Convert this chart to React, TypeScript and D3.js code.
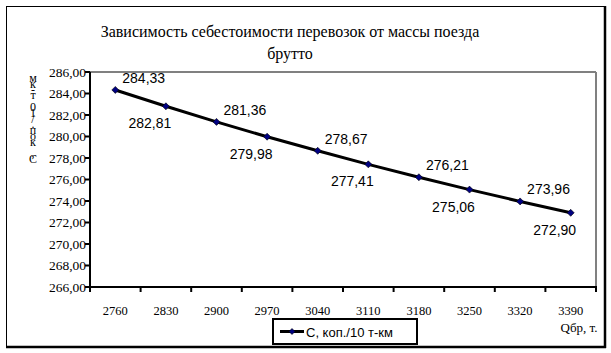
import React from "react";
import * as d3 from "d3";

const categories = ["2760", "2830", "2900", "2970", "3040", "3110", "3180", "3250", "3320", "3390"];
const values = [284.33, 282.81, 281.36, 279.98, 278.67, 277.41, 276.21, 275.06, 273.96, 272.9];
const yTicks = [266, 268, 270, 272, 274, 276, 278, 280, 282, 284, 286];
const titleLines = ["Зависимость себестоимости перевозок от массы поезда", "брутто"];
const seriesName = "С, коп./10 т-км";
const xTitle = "Qбр, т.";

const W = 611, H = 353;
const plot = { left: 90, right: 596, top: 72, bottom: 287 };

export default function App() {
  const x = d3.scaleBand<string>().domain(categories).range([plot.left, plot.right]);
  const y = d3.scaleLinear().domain([266, 286]).range([plot.bottom, plot.top]);
  const cx = (c: string) => (x(c) as number) + x.bandwidth() / 2;
  const line = d3.line<number>().x((_, i) => cx(categories[i])).y((v) => y(v));
  const fmt = (v: number) => v.toFixed(2).replace(".", ",");
  const diamond = (px: number, py: number, r = 3.5) =>
    `M${px},${py - r}L${px + r},${py}L${px},${py + r}L${px - r},${py}Z`;
  const yTitleStacked = Array.from(seriesName).reverse().join("");
  const serif = "'Liberation Serif', 'Times New Roman', serif";
  const sans = "'Liberation Sans', Arial, sans-serif";
  const tickEdges = [...categories.map((c) => x(c) as number), plot.right];

  return (
    <svg width={W} height={H} style={{ position: "absolute", left: 0, top: 0 }}>
      <rect x={0} y={0} width={W} height={H} fill="#fff" />
      {/* chart frame */}
      <rect x={6.5} y={6.5} width={598} height={340} fill="#fff" stroke="#000" strokeWidth={1} />
      <line x1={605} y1={6} x2={605} y2={348} stroke="#000" strokeWidth={2.5} />
      <line x1={6} y1={347} x2={606} y2={347} stroke="#000" strokeWidth={2.5} />

      {/* title */}
      {titleLines.map((t, i) => (
        <text key={i} x={290} y={37 + i * 22} textAnchor="middle" fontFamily={serif} fontSize={16} fill="#000">
          {t}
        </text>
      ))}

      {/* plot area border (gray) */}
      <line x1={plot.left} y1={plot.top} x2={plot.right} y2={plot.top} stroke="#808080" strokeWidth={2} />
      <line x1={plot.right} y1={plot.top} x2={plot.right} y2={plot.bottom} stroke="#808080" strokeWidth={2} />

      {/* y axis */}
      <line x1={plot.left} y1={plot.top} x2={plot.left} y2={plot.bottom + 4} stroke="#000" strokeWidth={2} />
      {yTicks.map((t) => (
        <g key={t}>
          <line x1={plot.left - 5} x2={plot.left} y1={y(t)} y2={y(t)} stroke="#000" strokeWidth={2} />
          <text x={plot.left - 4} y={y(t) + 4.5} textAnchor="end" fontFamily={serif} fontSize={13.5} fill="#000">
            {fmt(t)}
          </text>
        </g>
      ))}

      {/* x axis */}
      <line x1={plot.left - 1} y1={plot.bottom} x2={plot.right + 1} y2={plot.bottom} stroke="#000" strokeWidth={2} />
      {tickEdges.map((tx, i) => (
        <line key={i} x1={tx} x2={tx} y1={plot.bottom} y2={plot.bottom + 5} stroke="#000" strokeWidth={2} />
      ))}
      {categories.map((c) => (
        <text key={c} x={cx(c)} y={315} textAnchor="middle" fontFamily={serif} fontSize={12.5} fill="#000">
          {c}
        </text>
      ))}
      <text x={579} y={332} textAnchor="middle" fontFamily={serif} fontSize={13} fill="#000">
        {xTitle}
      </text>

      {/* y title: stacked upright characters, single text element */}
      <text
        x={33}
        y={71}
        fontFamily={serif}
        fontSize={12}
        fill="#000"
        style={{ writingMode: "vertical-rl", textOrientation: "upright", letterSpacing: "-8.2px" } as any}
      >
        {yTitleStacked}
      </text>

      {/* series */}
      <path d={line(values) || ""} fill="none" stroke="#000" strokeWidth={3} />
      {values.map((v, i) => (
        <path key={i} d={diamond(cx(categories[i]), y(v))} fill="#000080" stroke="#000" strokeWidth={0.6} />
      ))}
      {values.map((v, i) => {
        const px = cx(categories[i]);
        const py = y(v);
        const above = i % 2 === 0;
        return (
          <text
            key={"l" + i}
            x={above ? px + 7 : px - 16}
            y={above ? py - 7 : py + 22}
            textAnchor={above ? "start" : "middle"}
            fontFamily={sans}
            fontSize={14}
            fill="#000"
          >
            {fmt(v)}
          </text>
        );
      })}

      {/* legend */}
      <rect x={273} y={319} width={144} height={25} fill="#fff" stroke="#000" strokeWidth={2} />
      <line x1={280} x2={304} y1={331.5} y2={331.5} stroke="#000" strokeWidth={3} />
      <path d={diamond(292, 331.5, 3)} fill="#000080" stroke="#000" strokeWidth={0.6} />
      <text x={306} y={336.5} fontFamily={sans} fontSize={13} fill="#000">
        {seriesName}
      </text>
    </svg>
  );
}
